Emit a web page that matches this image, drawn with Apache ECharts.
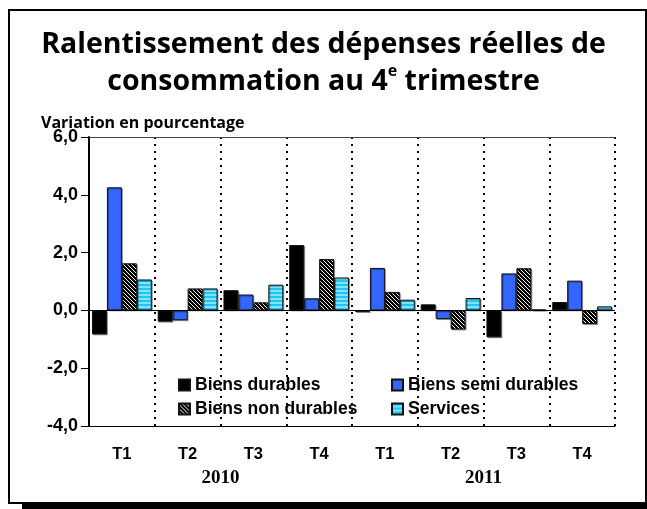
<!DOCTYPE html>
<html>
<head>
<meta charset="utf-8">
<script src="https://cdn.jsdelivr.net/npm/echarts@6/dist/echarts.min.js"></script>
<style>
  html, body { margin: 0; padding: 0; background: #fff; }
  #frame {
    position: absolute; left: 8px; top: 9px; width: 635px; height: 491px;
    border: 2px solid #000; box-shadow: 14px 7px 0 #000; background: #fff;
  }
  #MyChart { position: absolute; left: 0; top: 0; width: 647px; height: 509px; }
</style>
</head>
<body>
<div id="frame"></div>
<div id="MyChart"></div>
<script>
// trimestres et années
const quarters = ['T1', 'T2', 'T3', 'T4', 'T1', 'T2', 'T3', 'T4'];
const years = ['2010', '2011'];
const yTicks = ['-4,0', '-2,0', '0,0', '2,0', '4,0', '6,0'];

// variation en pourcentage
const biensDurables = [-0.83, -0.39, 0.70, 2.26, -0.05, 0.21, -0.93, 0.29];
const biensSemiDurables = [4.26, -0.34, 0.55, 0.42, 1.47, -0.30, 1.28, 1.03];
const biensNonDurables = [1.63, 0.76, 0.28, 1.78, 0.64, -0.66, 1.46, -0.47];
const services = [1.07, 0.76, 0.89, 1.14, 0.37, 0.43, 0.03, 0.14];

// motifs de remplissage
function hatch() {
  const c = document.createElement('canvas');
  c.width = 4; c.height = 4;
  const ctx = c.getContext('2d');
  ctx.fillStyle = '#fff';
  ctx.fillRect(0, 0, 4, 4);
  ctx.fillStyle = '#000';
  for (let x = 0; x < 4; x++) {
    for (let y = 0; y < 4; y++) {
      if ((x + y) % 2 === 0 || (x + 4 - y) % 4 === 1) ctx.fillRect(x, y, 1, 1);
    }
  }
  return c;
}
function stripes() {
  const c = document.createElement('canvas');
  c.width = 4; c.height = 4;
  const ctx = c.getContext('2d');
  ctx.fillStyle = '#22c4f4';
  ctx.fillRect(0, 0, 4, 2);
  ctx.fillStyle = '#80e4ff';
  ctx.fillRect(0, 2, 4, 2);
  return c;
}

let myChart = echarts.init(document.getElementById('MyChart'));

const barStyle = {
  borderColor: '#111',
  borderWidth: 1,
  shadowColor: 'rgba(0,0,0,0.35)',
  shadowOffsetX: 1,
  shadowOffsetY: 1
};

let option = {
  animation: false,
  title: [
    {
      text: 'Ralentissement des dépenses réelles de\nconsommation au 4{sup|e} trimestre',
      left: 'center',
      top: 21,
      textStyle: {
        fontFamily: 'Open Sans',
        fontWeight: 'bold',
        fontSize: 28.5,
        lineHeight: 37,
        color: '#000',
        rich: {
          sup: { fontFamily: 'Open Sans', fontWeight: 'bold', fontSize: 16, verticalAlign: 'top', lineHeight: 30, padding: [0, 0, 12, 0] }
        }
      }
    },
    {
      text: 'Variation en pourcentage',
      left: 36,
      top: 110,
      textStyle: { fontFamily: 'Open Sans', fontWeight: 'bold', fontSize: 16, color: '#000' }
    }
  ],
  legend: [
    {
      orient: 'vertical',
      left: 173,
      top: 371,
      itemWidth: 11,
      itemHeight: 11,
      itemGap: 6,
      icon: 'rect',
      data: ['Biens durables', 'Biens non durables'],
      textStyle: { fontFamily: 'Liberation Sans', fontWeight: 'bold', fontSize: 17.5, color: '#000' }
    },
    {
      orient: 'vertical',
      left: 386,
      top: 371,
      itemWidth: 11,
      itemHeight: 11,
      itemGap: 6,
      icon: 'rect',
      data: ['Biens semi durables', 'Services'],
      textStyle: { fontFamily: 'Liberation Sans', fontWeight: 'bold', fontSize: 17.5, color: '#000' }
    }
  ],
  grid: { left: 89, right: 32, top: 137, bottom: 83 },
  xAxis: [
    {
      type: 'category',
      data: quarters,
      position: 'bottom',
      axisLine: { onZero: false, lineStyle: { color: '#000', width: 1 } },
      axisTick: { show: false },
      axisLabel: { margin: 20, fontFamily: 'Liberation Sans', fontWeight: 'bold', fontSize: 16.5, color: '#000' },
      splitLine: { show: true, lineStyle: { color: '#000', type: [2, 5], width: 2 } }
    },
    {
      type: 'category',
      data: years,
      position: 'bottom',
      axisLine: { show: false, onZero: false },
      axisTick: { show: false },
      axisLabel: { margin: 43, fontFamily: 'Liberation Serif', fontWeight: 'bold', fontSize: 19, color: '#000' },
      splitLine: { show: false }
    },
    {
      type: 'category',
      data: quarters,
      position: 'top',
      axisLine: { onZero: false, lineStyle: { color: '#444', width: 1 } },
      axisTick: { show: false },
      axisLabel: { show: false },
      splitLine: { show: false }
    }
  ],
  yAxis: {
    type: 'value',
    min: -4,
    max: 6,
    interval: 2,
    axisLine: { show: true, lineStyle: { color: '#000', width: 2 } },
    axisTick: { show: true, length: 8, lineStyle: { color: '#000' } },
    axisLabel: {
      margin: 11,
      fontFamily: 'Liberation Sans',
      fontWeight: 'bold',
      fontSize: 18,
      color: '#000',
      formatter: function (v) { return yTicks[Math.round((v + 4) / 2)]; }
    },
    splitLine: { show: false }
  },
  series: [
    {
      name: 'Biens durables',
      type: 'bar',
      data: biensDurables,
      barGap: '0%',
      barCategoryGap: '9%',
      itemStyle: Object.assign({ color: '#000' }, barStyle),
      markLine: {
        silent: true,
        symbol: ['none', 'none'],
        label: { show: false },
        lineStyle: { color: '#000', type: 'solid', width: 1 },
        data: [{ yAxis: 0 }]
      }
    },
    {
      name: 'Biens semi durables',
      type: 'bar',
      data: biensSemiDurables,
      barGap: '0%',
      barCategoryGap: '9%',
      itemStyle: Object.assign({ color: '#3366ff' }, barStyle)
    },
    {
      name: 'Biens non durables',
      type: 'bar',
      data: biensNonDurables,
      barGap: '0%',
      barCategoryGap: '9%',
      itemStyle: Object.assign({ color: { image: hatch(), repeat: 'repeat' } }, barStyle)
    },
    {
      name: 'Services',
      type: 'bar',
      data: services,
      barGap: '0%',
      barCategoryGap: '9%',
      itemStyle: Object.assign({ color: { image: stripes(), repeat: 'repeat' } }, barStyle)
    }
  ]
};
myChart.setOption(option);
</script>
</body>
</html>
